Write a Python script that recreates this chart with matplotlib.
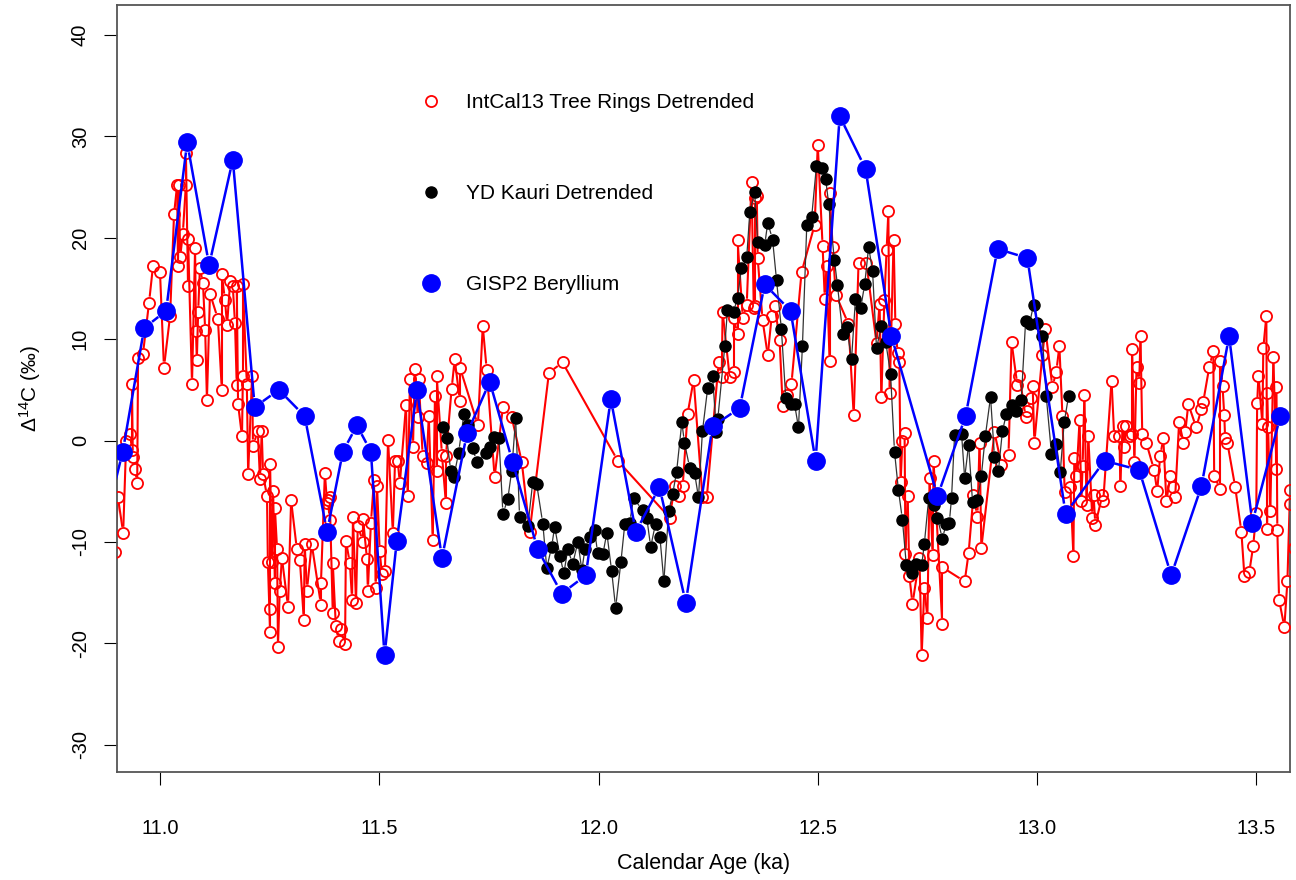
import numpy as np
import matplotlib
matplotlib.use("Agg")
import matplotlib.pyplot as plt
from matplotlib.collections import LineCollection
from matplotlib.lines import Line2D

plt.rcParams['font.family'] = ['Liberation Sans', 'DejaVu Sans']
plt.rcParams['mathtext.fontset'] = 'custom'
plt.rcParams['mathtext.rm'] = 'Liberation Sans'
plt.rcParams['mathtext.it'] = 'Liberation Sans:italic'
plt.rcParams['axes.unicode_minus'] = False

# IntCal13 tree rings, detrended (ka, permil)
intcal = [
    (10.897, -11.0), (10.904, -5.6), (10.916, -9.1), (10.923, 0.0), (10.932, 0.6),
    (10.936, -0.9), (10.938, -1.6), (10.943, -2.8), (10.948, -4.2), (10.936, 5.6),
    (10.950, 8.1), (10.961, 8.5), (10.975, 13.6), (10.984, 17.2), (11.000, 16.6),
    (11.009, 7.2), (11.023, 12.3), (11.032, 22.3), (11.039, 25.2), (11.043, 25.2),
    (11.059, 25.2), (11.059, 28.4), (11.041, 17.2), (11.046, 18.1), (11.052, 20.4),
    (11.064, 19.9), (11.064, 15.2), (11.073, 5.6), (11.080, 19.0), (11.082, 10.8),
    (11.084, 7.9), (11.091, 17.0), (11.098, 15.5), (11.103, 10.9), (11.107, 4.0),
    (11.114, 14.5), (11.087, 12.7), (11.132, 12.0), (11.141, 16.4), (11.141, 5.0),
    (11.148, 13.9), (11.153, 11.4), (11.160, 15.7), (11.166, 15.2), (11.175, 15.2),
    (11.189, 15.4), (11.171, 11.6), (11.175, 5.5), (11.178, 3.6), (11.187, 0.4),
    (11.189, 6.4), (11.198, 5.6), (11.210, 6.4), (11.212, -0.5), (11.223, 0.9),
    (11.232, 0.9), (11.201, -3.3), (11.228, -3.8), (11.235, -3.3), (11.251, -2.3),
    (11.244, -5.5), (11.258, -5.0), (11.262, -6.7), (11.246, -12.0), (11.255, -12.0),
    (11.267, -10.7), (11.278, -11.6), (11.251, -16.6), (11.251, -18.9), (11.269, -20.4),
    (11.262, -14.1), (11.273, -14.8), (11.292, -16.4), (11.299, -5.9), (11.312, -10.7),
    (11.319, -11.8), (11.330, -10.2), (11.346, -10.2), (11.335, -14.8), (11.328, -17.7),
    (11.367, -14.1), (11.367, -16.2), (11.376, -3.2), (11.383, -5.9), (11.381, -6.2),
    (11.387, -5.6), (11.387, -7.8), (11.394, -12.1), (11.394, -17.0), (11.401, -18.3),
    (11.412, -18.6), (11.408, -19.8), (11.422, -20.1), (11.424, -9.9), (11.433, -12.1),
    (11.438, -15.7), (11.447, -16.0), (11.440, -7.5), (11.451, -8.4), (11.463, -7.7),
    (11.463, -10.0), (11.472, -11.7), (11.474, -14.8), (11.481, -8.1), (11.488, -3.9),
    (11.495, -4.5), (11.492, -14.5), (11.501, -10.9), (11.506, -13.2), (11.513, -12.9),
    (11.520, 0.1), (11.531, -9.1), (11.536, -2.0), (11.542, -2.0), (11.547, -4.2),
    (11.561, 3.5), (11.565, -5.5), (11.570, 6.1), (11.581, 7.1), (11.590, 6.1),
    (11.577, -0.6), (11.588, 2.3), (11.599, -1.5), (11.608, -2.2), (11.613, 2.4),
    (11.622, -9.8), (11.627, 4.4), (11.631, 6.4), (11.631, -3.0), (11.643, -1.4),
    (11.652, -6.2), (11.652, -1.5), (11.665, 5.1), (11.672, 8.0), (11.684, 7.2),
    (11.684, 3.9), (11.725, 1.5), (11.736, 11.3), (11.745, 7.0), (11.763, -3.6),
    (11.782, 3.3), (11.802, 2.3), (11.825, -2.1), (11.843, -9.0), (11.887, 6.7),
    (11.918, 7.7), (12.044, -2.0), (12.162, -7.6), (12.174, -4.5), (12.183, -5.5),
    (12.192, -4.5), (12.203, 2.6), (12.217, 6.0), (12.237, -5.6), (12.247, -5.6),
    (12.274, 7.7), (12.281, 6.3), (12.283, 12.7), (12.299, 6.3), (12.308, 6.8),
    (12.308, 12.1), (12.317, 10.5), (12.317, 19.8), (12.329, 12.1), (12.338, 13.4),
    (12.349, 25.5), (12.354, 13.1), (12.356, 23.9), (12.356, 13.3), (12.361, 24.1),
    (12.363, 18.0), (12.374, 11.9), (12.386, 8.4), (12.395, 12.3), (12.402, 13.3),
    (12.413, 9.9), (12.420, 3.4), (12.429, 4.5), (12.440, 5.6), (12.463, 16.6),
    (12.493, 21.3), (12.500, 29.2), (12.511, 19.2), (12.516, 14.0), (12.520, 17.2),
    (12.527, 24.4), (12.527, 7.8), (12.534, 19.1), (12.541, 14.4), (12.570, 11.5),
    (12.582, 2.5), (12.593, 17.5), (12.611, 17.5), (12.634, 9.6), (12.641, 13.5),
    (12.645, 4.3), (12.652, 13.9), (12.657, 18.8), (12.661, 22.6), (12.664, 4.7),
    (12.673, 19.8), (12.677, 11.5), (12.682, 8.6), (12.686, 7.7), (12.689, -4.1),
    (12.693, 0.0), (12.698, 0.7), (12.700, -11.2), (12.705, -5.5), (12.709, -13.4),
    (12.716, -16.1), (12.732, -11.6), (12.737, -21.2), (12.743, -14.5), (12.750, -17.5),
    (12.755, -3.7), (12.762, -11.3), (12.764, -2.0), (12.784, -12.5), (12.784, -18.1),
    (12.835, -13.9), (12.844, -11.1), (12.855, -5.4), (12.864, -7.5), (12.869, -0.2),
    (12.873, -10.6), (12.903, 0.8), (12.919, -2.4), (12.935, -1.4), (12.942, 9.7),
    (12.955, 5.5), (12.960, 6.4), (12.974, 2.3), (12.978, 2.9), (12.987, 4.2),
    (12.990, 5.4), (12.994, -0.2), (13.012, 8.4), (13.019, 11.0), (13.035, 5.3),
    (13.044, 6.8), (13.051, 9.3), (13.058, 2.4), (13.063, -5.1), (13.076, -4.6),
    (13.083, -11.4), (13.085, -1.7), (13.090, -3.5), (13.097, 2.0), (13.101, -6.0),
    (13.104, -2.5), (13.108, 4.5), (13.113, -6.4), (13.117, 0.4), (13.126, -7.6),
    (13.129, -5.4), (13.133, -8.3), (13.149, -5.4), (13.151, -6.0), (13.170, 5.9),
    (13.176, 0.4), (13.188, 0.4), (13.190, -4.5), (13.195, 1.4), (13.199, -0.6),
    (13.204, 1.4), (13.211, 0.4), (13.217, 0.6), (13.217, 9.0), (13.222, -2.1),
    (13.227, 7.3), (13.233, 5.7), (13.236, 10.3), (13.240, 0.6), (13.249, -0.2),
    (13.267, -2.9), (13.274, -5.0), (13.281, -1.5), (13.288, 0.2), (13.295, -6.0),
    (13.304, -3.5), (13.309, -4.6), (13.315, -5.6), (13.324, 1.8), (13.334, -0.2),
    (13.338, 0.8), (13.345, 3.6), (13.363, 1.3), (13.375, 3.1), (13.379, 3.8),
    (13.393, 7.3), (13.402, 8.8), (13.404, -3.5), (13.418, 7.8), (13.418, -4.8),
    (13.423, 5.4), (13.427, 2.5), (13.429, 0.2), (13.434, -0.2), (13.452, -4.6),
    (13.466, -9.0), (13.473, -13.4), (13.484, -13.0), (13.493, -10.4), (13.500, -7.1),
    (13.502, 3.7), (13.505, 6.4), (13.514, 1.6), (13.516, 9.1), (13.523, 12.3),
    (13.525, 4.7), (13.525, -8.7), (13.527, 1.3), (13.532, -7.0), (13.539, 8.2),
    (13.546, 5.3), (13.546, -2.8), (13.548, -8.8), (13.552, -15.7), (13.564, -18.4),
    (13.571, -13.9), (13.577, -4.9), (13.578, -6.3), (13.585, -10.6), (13.595, -5.0),
]

# YD Kauri, detrended
kauri = [
    (11.645, 1.3), (11.654, 0.2), (11.663, -3.0), (11.670, -3.6), (11.681, -1.2),
    (11.693, 2.6), (11.702, 1.5), (11.713, -0.7), (11.722, -2.1), (11.743, -1.2),
    (11.752, -0.6), (11.761, 0.3), (11.773, 0.2), (11.782, -7.2), (11.793, -5.8),
    (11.802, -3.0), (11.811, 2.2), (11.820, -7.5), (11.839, -8.4), (11.850, -4.1),
    (11.859, -4.3), (11.873, -8.2), (11.882, -12.6), (11.893, -10.5), (11.900, -8.5),
    (11.912, -11.4), (11.921, -13.1), (11.930, -10.7), (11.941, -12.2), (11.953, -10.0),
    (11.962, -12.8), (11.969, -10.7), (11.980, -9.5), (11.991, -8.8), (11.998, -11.1),
    (12.010, -11.2), (12.019, -9.1), (12.030, -12.9), (12.039, -16.5), (12.051, -12.0),
    (12.060, -8.2), (12.071, -8.1), (12.080, -5.7), (12.101, -6.9), (12.110, -7.6),
    (12.119, -10.5), (12.130, -8.2), (12.140, -9.5), (12.149, -13.9), (12.160, -7.0),
    (12.169, -5.3), (12.178, -3.1), (12.190, 1.8), (12.196, -0.2), (12.208, -2.7),
    (12.219, -3.2), (12.228, -5.6), (12.237, 0.9), (12.249, 5.2), (12.260, 6.4),
    (12.269, 0.8), (12.272, 2.1), (12.288, 9.3), (12.294, 12.9), (12.308, 12.7),
    (12.317, 14.1), (12.326, 17.0), (12.338, 18.1), (12.345, 22.5), (12.356, 24.5),
    (12.363, 19.6), (12.379, 19.3), (12.386, 21.5), (12.397, 19.8), (12.406, 15.8),
    (12.417, 11.0), (12.427, 4.2), (12.440, 3.6), (12.447, 3.6), (12.456, 1.3),
    (12.465, 9.3), (12.475, 21.3), (12.486, 22.0), (12.497, 27.1), (12.509, 26.9),
    (12.518, 25.8), (12.525, 23.3), (12.538, 17.8), (12.545, 15.3), (12.557, 10.5),
    (12.566, 11.2), (12.577, 8.0), (12.586, 14.0), (12.598, 13.1), (12.607, 15.4),
    (12.616, 19.1), (12.625, 16.7), (12.634, 9.1), (12.645, 11.3), (12.655, 9.7),
    (12.666, 6.6), (12.675, -1.1), (12.684, -4.9), (12.693, -7.8), (12.702, -12.3),
    (12.714, -13.1), (12.725, -12.2), (12.737, -12.3), (12.743, -10.2), (12.753, -5.7),
    (12.764, -6.4), (12.773, -7.6), (12.784, -9.7), (12.793, -8.2), (12.800, -8.1),
    (12.805, -5.7), (12.812, 0.5), (12.828, 0.6), (12.835, -3.7), (12.844, -0.4),
    (12.853, -6.1), (12.864, -5.9), (12.873, -3.5), (12.882, 0.4), (12.894, 4.3),
    (12.903, -1.6), (12.912, -3.0), (12.921, 0.9), (12.930, 2.6), (12.942, 3.5),
    (12.953, 2.9), (12.964, 4.0), (12.974, 11.8), (12.983, 11.5), (12.992, 13.4),
    (13.001, 11.6), (13.012, 10.3), (13.021, 4.4), (13.033, -1.3), (13.044, -0.3),
    (13.053, -3.1), (13.062, 1.8), (13.072, 4.4),
]

# GISP2 10Be
gisp2 = [
    (10.870, -9.0), (10.915, -1.1), (10.964, 11.1), (11.014, 12.8), (11.062, 29.4),
    (11.112, 17.3), (11.166, 27.7), (11.216, 3.3), (11.271, 5.0), (11.330, 2.4),
    (11.381, -9.0), (11.417, -1.1), (11.449, 1.5), (11.481, -1.1), (11.512, -21.2),
    (11.540, -9.9), (11.586, 5.0), (11.643, -11.6), (11.700, 0.7), (11.752, 5.8),
    (11.804, -2.1), (11.861, -10.7), (11.916, -15.1), (11.971, -13.3), (12.028, 4.1),
    (12.085, -9.0), (12.139, -4.6), (12.199, -16.0), (12.260, 1.4), (12.322, 3.2),
    (12.379, 15.4), (12.438, 12.8), (12.495, -2.0), (12.550, 32.0), (12.609, 26.8),
    (12.668, 10.3), (12.773, -5.5), (12.837, 2.4), (12.910, 18.9), (12.978, 18.0),
    (13.065, -7.2), (13.154, -2.0), (13.233, -2.9), (13.306, -13.3), (13.375, -4.5),
    (13.438, 10.3), (13.491, -8.1), (13.555, 2.4),
]

labels = ["IntCal13 Tree Rings Detrended", "YD Kauri Detrended", "GISP2 Beryllium"]


def series(pairs):
    a = np.array(sorted(pairs))
    return a[:, 0], a[:, 1]


def gapped(ax, x, y, gap, **kw):
    """lines between points with a gap round each point, like R type='b'"""
    pts = ax.transData.transform(np.column_stack([x, y]))
    segs = []
    for p, q in zip(pts[:-1], pts[1:]):
        d = q - p
        L = np.hypot(*d)
        if L <= 2 * gap:
            continue
        u = d / L
        segs.append([p + u * gap, q - u * gap])
    segs = np.array(segs).reshape(-1, 2)
    segs = ax.transData.inverted().transform(segs).reshape(-1, 2, 2)
    ax.add_collection(LineCollection(segs, **kw))


fig = plt.figure(figsize=(12.96, 8.8), dpi=100)
ax = fig.add_axes([0.0903, 0.1227, 0.9051, 0.8716])
ax.set_xlim(10.902, 13.577)
ax.set_ylim(-32.7, 42.96)

rx, ry = series(intcal)
kx, ky = series(kauri)
bx, by = series(gisp2)

gapped(ax, rx, ry, 6, colors='red', linewidths=1.5, zorder=2)
ax.plot(rx, ry, 'o', ls='none', mfc='none', mec='red', mew=1.3, ms=8, zorder=3)

gapped(ax, kx, ky, 6, colors='#333333', linewidths=0.9, zorder=4)
ax.plot(kx, ky, 'o', ls='none', color='black', ms=8, zorder=5)

gapped(ax, bx, by, 10, colors='blue', linewidths=1.8, zorder=6)
ax.plot(bx, by, 'o', ls='none', color='blue', ms=12.5, zorder=7)

ax.set_xticks([11.0, 11.5, 12.0, 12.5, 13.0, 13.5])
ax.set_xticklabels(['11.0', '11.5', '12.0', '12.5', '13.0', '13.5'])
ax.set_yticks(np.arange(-30, 41, 10))
ax.tick_params(axis='x', length=9.5, width=0.8, pad=24, labelsize=14.5)
ax.tick_params(axis='y', length=9.5, width=0.8, pad=10, labelsize=14.5,
               labelrotation=90)
for t in ax.get_yticklabels():
    t.set_va('center')
for s in ax.spines.values():
    s.set_color('#555555')
    s.set_linewidth(1.3)

ax.set_xlabel('Calendar Age (ka)', fontsize=15.5, labelpad=11)
ax.set_ylabel('Δ$^{14}$C (‰)', fontsize=15, labelpad=20)

handles = [
    Line2D([], [], marker='o', ls='none', mfc='none', mec='red', mew=1.3, ms=8),
    Line2D([], [], marker='o', ls='none', color='black', ms=8),
    Line2D([], [], marker='o', ls='none', color='blue', ms=12.5),
]
ax.legend(handles, labels, loc='upper left', bbox_to_anchor=(0.2495, 0.899),
          frameon=False, fontsize=15, borderpad=0, handlelength=1.0,
          handletextpad=1.18, labelspacing=3.47)

fig.savefig('out.png', dpi=100)
